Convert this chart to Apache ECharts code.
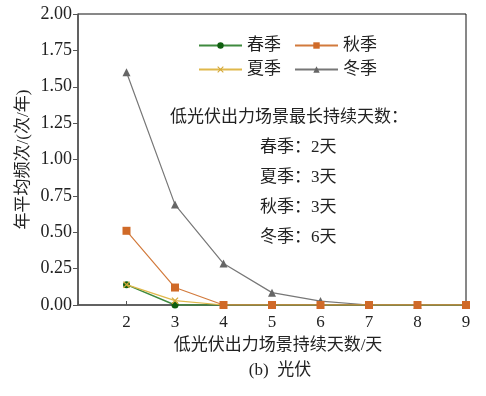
<!DOCTYPE html>
<html>
<head>
<meta charset="utf-8">
<script src="https://cdn.jsdelivr.net/npm/echarts@6/dist/echarts.min.js"></script>
<style>
  html, body { margin: 0; padding: 0; background: #fff; }
  #chart { width: 486px; height: 396px; }
</style>
</head>
<body>
<div id="chart"></div>
<script>
// 低光伏出力场景持续天数 - 年平均频次
const days = [2, 3, 4, 5, 6, 7, 8, 9]
const spring = [0.14, 0, 0, 0, 0, 0, 0, 0]
const summer = [0.14, 0.03, 0, 0, 0, 0, 0, 0]
const autumn = [0.51, 0.12, 0, 0, 0, 0, 0, 0]
const winter = [1.6, 0.69, 0.285, 0.085, 0.027, 0, 0, 0]
const noteTitle = '低光伏出力场景最长持续天数：'
const noteLines = ['春季：2天', '夏季：3天', '秋季：3天', '冬季：6天']
const caption = '(b)  光伏'

const serif = '"Liberation Serif", "Noto Sans CJK SC", serif'
const pair = (arr) => days.map((d, i) => [d, arr[i]])

const chart = echarts.init(document.getElementById('chart'))

const legendBase = {
    left: 193,
    itemWidth: 43,
    itemHeight: 8,
    itemGap: 13,
    textStyle: { fontFamily: serif, fontSize: 17, color: '#222' },
}

const textEl = (t, x, y, align) => ({
    type: 'text',
    x: x, y: y,
    style: {
        text: t, font: '17px ' + serif, fill: '#222',
        align: align || 'left', verticalAlign: 'middle',
    },
})

const option = {
    animation: false,
    grid: {
        left: 78, right: 20, top: 14, bottom: 91,
        show: true, borderColor: '#111', borderWidth: 1,
    },
    legend: [
        Object.assign({ top: 32, data: ['春季', '秋季'] }, legendBase),
        Object.assign({ top: 56, data: ['夏季', '冬季'] }, legendBase),
    ],
    graphic: [textEl(noteTitle, 170, 118)]
        .concat(noteLines.map((t, i) => textEl(t, 260, 148 + i * 29.7)))
        .concat([textEl(caption, 280, 371, 'center')]),
    xAxis: {
        type: 'value',
        min: 1, max: 9, interval: 1,
        name: '低光伏出力场景持续天数/天',
        nameLocation: 'middle',
        nameGap: 32,
        nameMoveOverlap: false,
        nameTextStyle: { fontFamily: serif, fontSize: 17, color: '#222', padding: [0, 0, 0, 12] },
        axisLine: { lineStyle: { color: '#555', width: 1.5 } },
        axisTick: { inside: true, length: 4, lineStyle: { color: '#555' } },
        axisLabel: {
            fontFamily: serif, fontSize: 17, color: '#222', margin: 9,
            formatter: (v) => (v === 1 ? '' : v),
        },
        splitLine: { show: false },
    },
    yAxis: {
        type: 'value',
        min: 0, max: 2, interval: 0.25,
        name: '年平均频次/(次/年)',
        nameLocation: 'middle',
        nameGap: 46,
        nameMoveOverlap: false,
        nameTextStyle: { fontFamily: serif, fontSize: 17, color: '#222' },
        axisLine: { show: true, lineStyle: { color: '#555', width: 1.5 } },
        axisTick: { show: true, length: 5, lineStyle: { color: '#555' } },
        axisLabel: {
            fontFamily: serif, fontSize: 18, color: '#222', margin: 6,
            formatter: (v) => v.toFixed(2),
        },
        splitLine: { show: false },
    },
    series: [
        {
            name: '春季', type: 'line', data: pair(spring),
            symbol: 'circle', symbolSize: 7,
            lineStyle: { color: '#3f8a3f', width: 1.5 },
            itemStyle: { color: '#0f5f0f' },
            z: 3,
        },
        {
            name: '夏季', type: 'line', data: pair(summer),
            symbol: 'path://M-1,-1.3L0,-0.3L1,-1.3L1.3,-1L0.3,0L1.3,1L1,1.3L0,0.3L-1,1.3L-1.3,1L-0.3,0L-1.3,-1Z',
            symbolSize: 7,
            lineStyle: { color: '#e0b84a', width: 1.2 },
            itemStyle: { color: '#d4a838' },
            z: 4,
        },
        {
            name: '秋季', type: 'line', data: pair(autumn),
            symbol: 'rect', symbolSize: 8,
            lineStyle: { color: '#d27a3c', width: 1.2 },
            itemStyle: { color: '#d06a28' },
            z: 5,
        },
        {
            name: '冬季', type: 'line', data: pair(winter),
            symbol: 'triangle', symbolSize: 8,
            lineStyle: { color: '#777', width: 1.2 },
            itemStyle: { color: '#666' },
            z: 2,
        },
    ],
}

chart.setOption(option)
window.addEventListener('resize', () => chart.resize())
</script>
</body>
</html>
